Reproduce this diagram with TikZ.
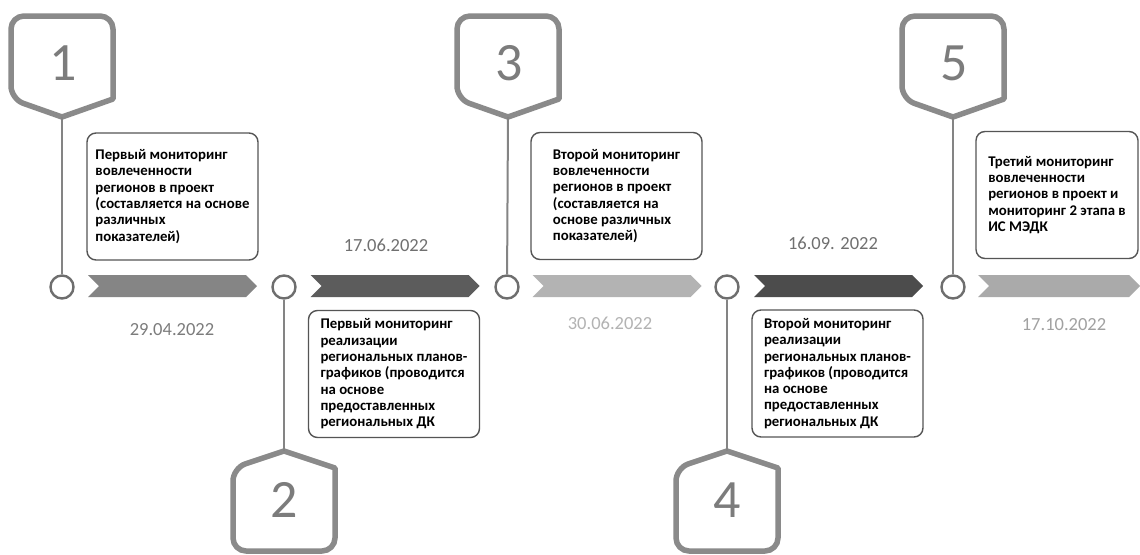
\documentclass[tikz,border=0pt]{standalone}
\usepackage{fontspec}
\setmainfont{Carlito}
\definecolor{badgegray}{HTML}{8A8A8A}
\definecolor{numgray}{HTML}{7C7C7C}
\definecolor{dotgray}{HTML}{6E6E6E}
\definecolor{boxgray}{HTML}{555555}
\definecolor{barmid}{HTML}{858585}
\definecolor{bardark}{HTML}{5C5C5C}
\definecolor{barlight}{HTML}{B3B3B3}
\usepackage{tikz}
\usetikzlibrary{shapes.symbols, positioning}

\begin{document}
\begin{tikzpicture}[x=1pt, y=-1pt,
		badge/.style = {draw = badgegray, line width = 5.5pt, line join = round},
		num/.style = {text = numgray, font = \fontsize{54}{54}\selectfont, inner sep = 0pt},
		dot/.style = {circle, draw = dotgray, fill = white, line width = 2.4pt, minimum size = 23pt, inner sep = 0pt},
		stem/.style = {draw = dotgray!85, line width = 2pt},
		bar/.style = {signal, signal from = west, signal to = east, signal pointer angle = 90, minimum width = 169pt, minimum height = 22pt, inner sep = 0pt},
		box/.style = {draw = boxgray, line width = 1.4pt, rounded corners = 9pt, minimum width = 171pt, minimum height = 127pt, align = left, font = \bfseries\fontsize{14.8}{16.3}\selectfont},
		date/.style = {font = \fontsize{18.5}{20}\selectfont}]
		\path[fill = white] (0,0) rectangle (1140,554);
		\useasboundingbox (0,0) rectangle (1140,554);

		% badges above the line
		\foreach \x/\n in {62/1, 508/3, 953/5}{
			\draw[badge] (\x,117) -- (\x+51,99) [rounded corners = 13pt]-- (\x+51,16) -- (\x-51,16) -- (\x-51,99) [sharp corners]-- cycle;
			\node[num] (num\n) at (\x+1,63) {\n};
			\coordinate (tip\n) at (\x,117);
		}
		% badges below the line
		\foreach \x/\n in {284/2, 727/4}{
			\draw[badge] (\x,451) -- (\x+51,468) [rounded corners = 13pt]-- (\x+51,551) -- (\x-51,551) -- (\x-51,468) [sharp corners]-- cycle;
			\node[num] (num\n) at (\x,500) {\n};
			\coordinate (tip\n) at (\x,451);
		}

		\node[dot] (dot1) at (62,287) {};
		\node[dot] (dot2) at (284,287) {};
		\node[dot] (dot3) at (507,287) {};
		\node[dot] (dot4) at (727,287) {};
		\node[dot] (dot5) at (953,287) {};
		\draw[stem] (tip1) -- (dot1);
		\draw[stem] (dot2) -- (tip2);
		\draw[stem] (tip3) -- (dot3);
		\draw[stem] (dot4) -- (tip4);
		\draw[stem] (tip5) -- (dot5);

		\node[bar, fill = barmid] (bar1) at (172.5,286) {};
		\node[bar, fill = bardark] (bar2) at (395,286) {};
		\node[bar, fill = barlight] (bar3) at (617,286) {};
		\node[bar, fill = bardark!110] (bar4) at (838.5,286) {};
		\node[bar, fill = barlight!95!black, minimum width = 162pt] (bar5) at (1059,286) {};

		\node[date, text = numgray] (date1) at (172,330) {29.04.2022};
		\node[date, text = numgray!90!black] (date2) at (386,245) {17.06.2022};
		\node[date, text = barlight] (date3) at (610,323) {30.06.2022};
		\node[date, text = numgray!90!black] (date4) at (833,243) {16.09. 2022};
		\node[date, text = badgegray!80] (date5) at (1064,325) {17.10.2022};

		\node[box] (box1) at (172.5,196.5) {Первый мониторинг\\ вовлеченности\\ регионов в проект\\ (составляется на основе\\ различных\\ показателей)};
		\node[box] (box2) at (394,374) {Первый мониторинг\\ реализации\\ региональных планов-\\ графиков (проводится\\ на основе\\ предоставленных\\ региональных ДК};
		\node[box] (box3) at (616.5,196) {Второй мониторинг\\ вовлеченности\\ регионов в проект\\ (составляется на\\ основе различных\\ показателей)};
		\node[box] (box4) at (837.5,373.5) {Второй мониторинг\\ реализации\\ региональных планов-\\ графиков (проводится\\ на основе\\ предоставленных\\ региональных ДК};
		\node[box, minimum width = 162pt] (box5) at (1057,195) {Третий мониторинг\\ вовлеченности\\ регионов в проект и\\ мониторинг 2 этапа в\\ ИС МЭДК};
	\end{tikzpicture}
\end{document}
